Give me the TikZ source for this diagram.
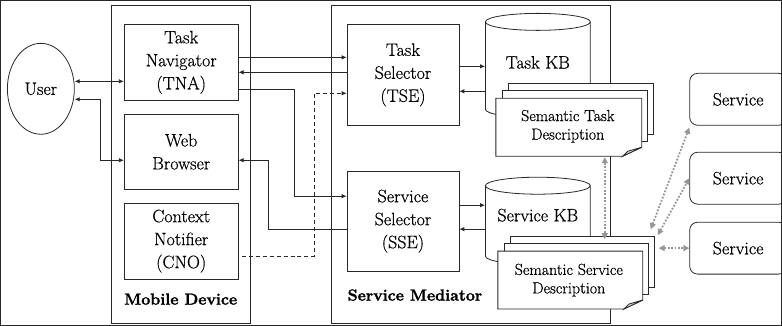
\documentclass[tikz,border=0pt]{standalone}
\usepackage{fontspec}
\newfontfamily\diagfont{Latin Modern Roman}[FakeBold=0.5]
\newfontfamily\headfont{Latin Modern Roman}[FakeBold=1.6]
\usetikzlibrary{arrows.meta,shapes.geometric}

\definecolor{dotgray}{RGB}{150,150,150}
\definecolor{linegray}{RGB}{40,40,40}

% knowledge-base drum: left x, right x, top-ellipse y, bottom-ellipse y, y radius
\newcommand\kbdrum[5]{%
  \draw[fill=white] (#1,#3) -- (#1,#4)
    arc[start angle=180,end angle=0,x radius={(#2-#1)/2},y radius=#5] -- (#2,#3);
  \draw[fill=white] ({(#1+#2)/2},#3) ellipse[x radius={(#2-#1)/2},y radius=#5];}

% stack of three documents, front sheet given by x1 y1 x2 y2
\newcommand\docstack[4]{%
  \draw[fill=white] (#1+13,#2-15) rectangle (#3+12,#4-21.5);
  \draw[fill=white] (#1+6.5,#2-7.5) rectangle (#3+6,#4-14.5);
  \draw[fill=white] (#1,#2) -- (#3,#2) -- (#3,#4-9) -- (#3-19,#4) -- (#1,#4) -- cycle;
  \draw[fill=gray!35] (#3-19,#4) -- (#3-14,#4-5) -- (#3,#4-9) -- cycle;}

\begin{document}
\begin{tikzpicture}[x=1pt,y=-1pt,line width=0.8pt,
  every path/.style={draw=linegray},
  big/.style={font=\diagfont\fontsize{18}{23}\selectfont,align=center,inner sep=0pt},
  bigbold/.style={font=\headfont\fontsize{16}{20}\selectfont\bfseries,align=center,inner sep=0pt},
  small/.style={font=\diagfont\fontsize{16}{18.5}\selectfont,align=center,inner sep=0pt},
  box/.style={big,draw,rectangle,minimum width=114pt},
  selbox/.style={big,draw,rectangle,minimum width=112pt},
  svc/.style={big,draw,rounded corners=8pt,minimum width=97pt,minimum height=52pt},
  arr/.style={-{Latex[length=5pt,width=4.5pt]}},
  dbl/.style={{Latex[length=5pt,width=4.5pt]}-{Latex[length=5pt,width=4.5pt]}},
  gdot/.style={draw=dotgray,line width=1.8pt,dash pattern=on 1.8pt off 1.6pt,
    {Triangle[length=6pt,width=6pt]}-{Triangle[length=6pt,width=6pt]}}]

\useasboundingbox (0,0) rectangle (782,325);

% containers
\node[draw,minimum width=139pt,minimum height=318pt,inner sep=0pt] (mobile) at (180.5,164) {};
\node[draw,minimum width=280pt,minimum height=318pt,inner sep=0pt] (mediator) at (471,164) {};
\node[bigbold] (mobilelbl) at (180.5,299) {Mobile Device};
\node[bigbold] (mediatorlbl) at (415,295) {Service Mediator};

% knowledge bases
\kbdrum{485.5}{590.5}{21.5}{109}{8.5}
\kbdrum{485.5}{590.5}{185.5}{256}{8.5}
\node[big,minimum width=105pt,minimum height=90pt] (taskkb) at (538,62) {Task KB};
\node[big,minimum width=105pt,minimum height=80pt] (svckb) at (538,215) {Service KB};

% semantic descriptions
\docstack{496}{98}{642}{156}
\docstack{498}{251}{643}{309}
\node[small,minimum width=146pt,minimum height=58pt] (taskdesc) at (568,126) {Semantic Task\\Description};
\node[small,minimum width=145pt,minimum height=58pt] (svcdesc) at (569,280) {Semantic Service\\Description};

% user
\node[big,draw,ellipse,minimum width=67pt,minimum height=91pt] (user) at (40.5,88.5) {\raisebox{-4pt}{User}};

% mobile device components
\node[box,minimum height=76pt] (tna) at (181,62) {Task\\Navigator\\(TNA)};
\node[box,minimum height=75pt] (wb) at (181,151.5) {Web\\Browser};
\node[box,minimum height=76pt] (cno) at (181,241) {Context\\Notifier\\(CNO)};

% service mediator components
\node[selbox,minimum height=101pt] (tse) at (403,74.5) {Task\\Selector\\(TSE)};
\node[selbox,minimum height=100pt] (sse) at (403,221) {Service\\Selector\\(SSE)};

% services
\node[svc] (s1) at (738.5,99) {Service};
\node[svc] (s2) at (738.5,178) {Service};
\node[svc] (s3) at (738.5,248) {Service};

% user interaction
\draw[dbl] (user.east |- 0,81) -- (tna.west |- 0,81);
\draw[dbl] (user.east |- 0,99) -- (100,99) |- (wb.west |- 0,160);

% mobile device <-> mediator
\draw[arr] (tna.east |- 0,57) -- (tse.west |- 0,57);
\draw[arr] (tse.west |- 0,72) -- (tna.east |- 0,72);
\draw[arr] (tna.east |- 0,89) -- (294,89) |- (sse.west |- 0,196);
\draw[arr] (sse.west |- 0,229) -- (268,229) |- (wb.east |- 0,160);
\draw[arr,dash pattern=on 4pt off 3pt,shorten <=3pt] (cno.east |- 0,256) -- (314,256) |- (tse.west |- 0,93);

% selectors <-> knowledge bases
\draw[arr] (tse.east |- 0,66) -- (taskkb.west |- 0,66);
\draw[arr] (taskkb.west |- 0,91) -- (tse.east |- 0,91);
\draw[arr] (sse.east |- 0,205) -- (svckb.west |- 0,205);
\draw[arr] (svckb.west |- 0,229) -- (sse.east |- 0,229);

% semantic links
\coordinate (vt) at (605,157);
\coordinate (vb) at (605,239);
\coordinate (d1) at (651,229);
\coordinate (d2) at (658,235);
\coordinate (d3) at (659,248);
\draw[gdot] (vt) -- (vb);
\draw[gdot] (d1) -- ([shift={(0,2)}]s1.south west);
\draw[gdot] (d2) -- (s2.west);
\draw[gdot] (d3) -- (s3.west);
\end{tikzpicture}
\end{document}
